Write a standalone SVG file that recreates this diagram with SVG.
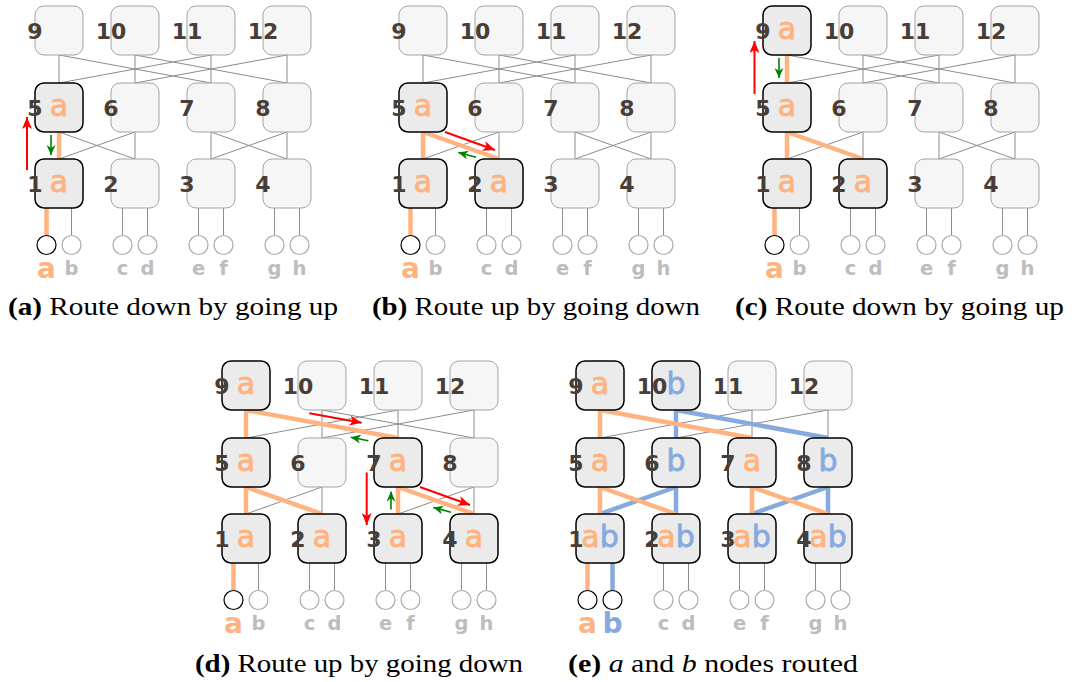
<svg xmlns="http://www.w3.org/2000/svg" xmlns:xlink="http://www.w3.org/1999/xlink" width="1072" height="682" viewBox="0 0 1072 682">
  <style>
    .w { stroke: #8c8c8c; stroke-width: 1; fill: none; }
    .o { stroke: #ffb380; stroke-width: 4.5; fill: none; }
    .bl { stroke: #87aade; stroke-width: 4.5; fill: none; }
    .box { fill: #f6f6f6; stroke: #a3a3a3; stroke-width: 1; }
    .box.on { fill: #ebebeb; stroke: #000; stroke-width: 1.5; }
    .num { font-family: "DejaVu Sans", sans-serif; font-weight: bold; font-size: 22px; fill: #483e37; text-anchor: middle; }
    .let { font-family: "DejaVu Sans", sans-serif; font-size: 30px; text-anchor: middle; stroke-width: 0.8; }
    .oa { fill: #ffb380; stroke: #ffb380; }
    .bb { fill: #87aade; stroke: #87aade; }
    .leaf { fill: #fff; stroke: #ababab; stroke-width: 1.2; }
    .leaf.on { stroke: #000; }
    .lab { font-family: "DejaVu Sans", sans-serif; font-weight: bold; font-size: 19.5px; fill: #bdbdbd; text-anchor: middle; }
    .big { font-family: "DejaVu Sans", sans-serif; font-weight: bold; font-size: 28px; text-anchor: middle; stroke: none; }
    .big.oa, .big.bb { stroke: none; }
    .cap { font-family: "Liberation Serif", "Times New Roman", serif; font-size: 26px; fill: #000; }
    .red { stroke: #ff0000; stroke-width: 2; fill: none; marker-end: url(#headR); }
    .grn { stroke: #008000; stroke-width: 1.6; fill: none; marker-end: url(#headG); }
  </style>
  <defs>
    <marker id="headR" markerUnits="userSpaceOnUse" markerWidth="12" markerHeight="10" viewBox="0 0 12 10" refX="12" refY="5" orient="auto">
      <path d="M0,0 L12,5 L0,10 L3,5 z" fill="#ff0000"/>
    </marker>
    <marker id="headG" markerUnits="userSpaceOnUse" markerWidth="10" markerHeight="9" viewBox="0 0 10 9" refX="10" refY="4.5" orient="auto">
      <path d="M0,0 L10,4.5 L0,9 L3,4.5 z" fill="#008000"/>
    </marker>
    <!-- thin wiring shared by every copy of the network -->
    <g id="mesh" class="w">
      <path d="M59,55 L59,83 M59,55 L211,83 M135,55 L135,83 M135,55 L287,83 M211,55 L211,83 M211,55 L59,83 M287,55 L287,83 M287,55 L135,83"/>
      <path d="M59,132 L59,159 M59,132 L135,159 M135,132 L135,159 M135,132 L59,159 M211,132 L211,159 M211,132 L287,159 M287,132 L287,159 M287,132 L211,159"/>
      <path d="M46.5,208 L46.5,235.5 M71.5,208 L71.5,235.5 M122.5,208 L122.5,235.5 M147.5,208 L147.5,235.5 M198.5,208 L198.5,235.5 M223.5,208 L223.5,235.5 M274.5,208 L274.5,235.5 M299.5,208 L299.5,235.5"/>
    </g>
  </defs>
  <rect width="1072" height="682" fill="#fff"/>

  <!-- (a) -->
  <g id="panel-a">
    <g id="a-connectors">
      <use href="#mesh" xlink:href="#mesh"/>
      <path class="o" d="M59,132 L59,159 M46.5,208 L46.5,235.5"/>
      <path class="red" d="M27,170 L27,117"/>
      <path class="grn" d="M51,135 L51,155"/>
    </g>
    <g id="a-n9"><rect class="box" x="35" y="6" width="48" height="49" rx="9"/><text class="num" x="35" y="38.5">9</text></g>
    <g id="a-n10"><rect class="box" x="111" y="6" width="48" height="49" rx="9"/><text class="num" x="111" y="38.5">10</text></g>
    <g id="a-n11"><rect class="box" x="187" y="6" width="48" height="49" rx="9"/><text class="num" x="187" y="38.5">11</text></g>
    <g id="a-n12"><rect class="box" x="263" y="6" width="48" height="49" rx="9"/><text class="num" x="263" y="38.5">12</text></g>
    <g id="a-n5"><rect class="box on" x="35" y="83" width="48" height="49" rx="9"/><text class="num" x="35" y="115.5">5</text><text class="let oa" x="59" y="115.5">a</text></g>
    <g id="a-n6"><rect class="box" x="111" y="83" width="48" height="49" rx="9"/><text class="num" x="111" y="115.5">6</text></g>
    <g id="a-n7"><rect class="box" x="187" y="83" width="48" height="49" rx="9"/><text class="num" x="187" y="115.5">7</text></g>
    <g id="a-n8"><rect class="box" x="263" y="83" width="48" height="49" rx="9"/><text class="num" x="263" y="115.5">8</text></g>
    <g id="a-n1"><rect class="box on" x="35" y="159" width="48" height="49" rx="9"/><text class="num" x="35" y="191.5">1</text><text class="let oa" x="59" y="191.5">a</text></g>
    <g id="a-n2"><rect class="box" x="111" y="159" width="48" height="49" rx="9"/><text class="num" x="111" y="191.5">2</text></g>
    <g id="a-n3"><rect class="box" x="187" y="159" width="48" height="49" rx="9"/><text class="num" x="187" y="191.5">3</text></g>
    <g id="a-n4"><rect class="box" x="263" y="159" width="48" height="49" rx="9"/><text class="num" x="263" y="191.5">4</text></g>
    <g id="a-la"><circle class="leaf on" cx="46.5" cy="245" r="9.5"/><text class="big oa" x="46.5" y="278">a</text></g>
    <g id="a-lb"><circle class="leaf" cx="71.5" cy="245" r="9.5"/><text class="lab" x="71.5" y="275">b</text></g>
    <g id="a-lc"><circle class="leaf" cx="122.5" cy="245" r="9.5"/><text class="lab" x="122.5" y="275">c</text></g>
    <g id="a-ld"><circle class="leaf" cx="147.5" cy="245" r="9.5"/><text class="lab" x="147.5" y="275">d</text></g>
    <g id="a-le"><circle class="leaf" cx="198.5" cy="245" r="9.5"/><text class="lab" x="198.5" y="275">e</text></g>
    <g id="a-lf"><circle class="leaf" cx="223.5" cy="245" r="9.5"/><text class="lab" x="223.5" y="275">f</text></g>
    <g id="a-lg"><circle class="leaf" cx="274.5" cy="245" r="9.5"/><text class="lab" x="274.5" y="275">g</text></g>
    <g id="a-lh"><circle class="leaf" cx="299.5" cy="245" r="9.5"/><text class="lab" x="299.5" y="275">h</text></g>
  </g>

  <!-- (b) -->
  <g id="panel-b" transform="translate(364,0)">
    <g id="b-connectors">
      <use href="#mesh" xlink:href="#mesh"/>
      <path class="o" d="M59,132 L59,159 M59,132 L135,159 M46.5,208 L46.5,235.5"/>
      <path class="red" d="M81,132 L131,150"/>
      <path class="grn" d="M112,157.3 L94.3,152.4"/>
    </g>
    <g id="b-n9"><rect class="box" x="35" y="6" width="48" height="49" rx="9"/><text class="num" x="35" y="38.5">9</text></g>
    <g id="b-n10"><rect class="box" x="111" y="6" width="48" height="49" rx="9"/><text class="num" x="111" y="38.5">10</text></g>
    <g id="b-n11"><rect class="box" x="187" y="6" width="48" height="49" rx="9"/><text class="num" x="187" y="38.5">11</text></g>
    <g id="b-n12"><rect class="box" x="263" y="6" width="48" height="49" rx="9"/><text class="num" x="263" y="38.5">12</text></g>
    <g id="b-n5"><rect class="box on" x="35" y="83" width="48" height="49" rx="9"/><text class="num" x="35" y="115.5">5</text><text class="let oa" x="59" y="115.5">a</text></g>
    <g id="b-n6"><rect class="box" x="111" y="83" width="48" height="49" rx="9"/><text class="num" x="111" y="115.5">6</text></g>
    <g id="b-n7"><rect class="box" x="187" y="83" width="48" height="49" rx="9"/><text class="num" x="187" y="115.5">7</text></g>
    <g id="b-n8"><rect class="box" x="263" y="83" width="48" height="49" rx="9"/><text class="num" x="263" y="115.5">8</text></g>
    <g id="b-n1"><rect class="box on" x="35" y="159" width="48" height="49" rx="9"/><text class="num" x="35" y="191.5">1</text><text class="let oa" x="59" y="191.5">a</text></g>
    <g id="b-n2"><rect class="box on" x="111" y="159" width="48" height="49" rx="9"/><text class="num" x="111" y="191.5">2</text><text class="let oa" x="135" y="191.5">a</text></g>
    <g id="b-n3"><rect class="box" x="187" y="159" width="48" height="49" rx="9"/><text class="num" x="187" y="191.5">3</text></g>
    <g id="b-n4"><rect class="box" x="263" y="159" width="48" height="49" rx="9"/><text class="num" x="263" y="191.5">4</text></g>
    <g id="b-la"><circle class="leaf on" cx="46.5" cy="245" r="9.5"/><text class="big oa" x="46.5" y="278">a</text></g>
    <g id="b-lb"><circle class="leaf" cx="71.5" cy="245" r="9.5"/><text class="lab" x="71.5" y="275">b</text></g>
    <g id="b-lc"><circle class="leaf" cx="122.5" cy="245" r="9.5"/><text class="lab" x="122.5" y="275">c</text></g>
    <g id="b-ld"><circle class="leaf" cx="147.5" cy="245" r="9.5"/><text class="lab" x="147.5" y="275">d</text></g>
    <g id="b-le"><circle class="leaf" cx="198.5" cy="245" r="9.5"/><text class="lab" x="198.5" y="275">e</text></g>
    <g id="b-lf"><circle class="leaf" cx="223.5" cy="245" r="9.5"/><text class="lab" x="223.5" y="275">f</text></g>
    <g id="b-lg"><circle class="leaf" cx="274.5" cy="245" r="9.5"/><text class="lab" x="274.5" y="275">g</text></g>
    <g id="b-lh"><circle class="leaf" cx="299.5" cy="245" r="9.5"/><text class="lab" x="299.5" y="275">h</text></g>
  </g>

  <!-- (c) -->
  <g id="panel-c" transform="translate(728,0)">
    <g id="c-connectors">
      <use href="#mesh" xlink:href="#mesh"/>
      <path class="o" d="M59,55 L59,83 M59,132 L59,159 M59,132 L135,159 M46.5,208 L46.5,235.5"/>
      <path class="red" d="M26.5,94 L26.5,41"/>
      <path class="grn" d="M51,58 L51,78"/>
    </g>
    <g id="c-n9"><rect class="box on" x="35" y="6" width="48" height="49" rx="9"/><text class="num" x="35" y="38.5">9</text><text class="let oa" x="59" y="38.5">a</text></g>
    <g id="c-n10"><rect class="box" x="111" y="6" width="48" height="49" rx="9"/><text class="num" x="111" y="38.5">10</text></g>
    <g id="c-n11"><rect class="box" x="187" y="6" width="48" height="49" rx="9"/><text class="num" x="187" y="38.5">11</text></g>
    <g id="c-n12"><rect class="box" x="263" y="6" width="48" height="49" rx="9"/><text class="num" x="263" y="38.5">12</text></g>
    <g id="c-n5"><rect class="box on" x="35" y="83" width="48" height="49" rx="9"/><text class="num" x="35" y="115.5">5</text><text class="let oa" x="59" y="115.5">a</text></g>
    <g id="c-n6"><rect class="box" x="111" y="83" width="48" height="49" rx="9"/><text class="num" x="111" y="115.5">6</text></g>
    <g id="c-n7"><rect class="box" x="187" y="83" width="48" height="49" rx="9"/><text class="num" x="187" y="115.5">7</text></g>
    <g id="c-n8"><rect class="box" x="263" y="83" width="48" height="49" rx="9"/><text class="num" x="263" y="115.5">8</text></g>
    <g id="c-n1"><rect class="box on" x="35" y="159" width="48" height="49" rx="9"/><text class="num" x="35" y="191.5">1</text><text class="let oa" x="59" y="191.5">a</text></g>
    <g id="c-n2"><rect class="box on" x="111" y="159" width="48" height="49" rx="9"/><text class="num" x="111" y="191.5">2</text><text class="let oa" x="135" y="191.5">a</text></g>
    <g id="c-n3"><rect class="box" x="187" y="159" width="48" height="49" rx="9"/><text class="num" x="187" y="191.5">3</text></g>
    <g id="c-n4"><rect class="box" x="263" y="159" width="48" height="49" rx="9"/><text class="num" x="263" y="191.5">4</text></g>
    <g id="c-la"><circle class="leaf on" cx="46.5" cy="245" r="9.5"/><text class="big oa" x="46.5" y="278">a</text></g>
    <g id="c-lb"><circle class="leaf" cx="71.5" cy="245" r="9.5"/><text class="lab" x="71.5" y="275">b</text></g>
    <g id="c-lc"><circle class="leaf" cx="122.5" cy="245" r="9.5"/><text class="lab" x="122.5" y="275">c</text></g>
    <g id="c-ld"><circle class="leaf" cx="147.5" cy="245" r="9.5"/><text class="lab" x="147.5" y="275">d</text></g>
    <g id="c-le"><circle class="leaf" cx="198.5" cy="245" r="9.5"/><text class="lab" x="198.5" y="275">e</text></g>
    <g id="c-lf"><circle class="leaf" cx="223.5" cy="245" r="9.5"/><text class="lab" x="223.5" y="275">f</text></g>
    <g id="c-lg"><circle class="leaf" cx="274.5" cy="245" r="9.5"/><text class="lab" x="274.5" y="275">g</text></g>
    <g id="c-lh"><circle class="leaf" cx="299.5" cy="245" r="9.5"/><text class="lab" x="299.5" y="275">h</text></g>
  </g>

  <!-- (d) -->
  <g id="panel-d" transform="translate(187,355)">
    <g id="d-connectors">
      <use href="#mesh" xlink:href="#mesh"/>
      <path class="o" d="M59,55 L59,83 M59,55 L211,83 M59,132 L59,159 M59,132 L135,159 M211,132 L211,159 M211,132 L287,159 M46.5,208 L46.5,235.5"/>
      <path class="red" d="M122.3,58.3 L174.7,67.7"/>
      <path class="grn" d="M181.3,85.7 L163.7,82.3"/>
      <path class="red" d="M179.7,117.5 L179.7,170"/>
      <path class="grn" d="M204,154.5 L204,136.5"/>
      <path class="red" d="M233,132 L283,150"/>
      <path class="grn" d="M264,157.3 L246.3,152.4"/>
    </g>
    <g id="d-n9"><rect class="box on" x="35" y="6" width="48" height="49" rx="9"/><text class="num" x="35" y="38.5">9</text><text class="let oa" x="59" y="38.5">a</text></g>
    <g id="d-n10"><rect class="box" x="111" y="6" width="48" height="49" rx="9"/><text class="num" x="111" y="38.5">10</text></g>
    <g id="d-n11"><rect class="box" x="187" y="6" width="48" height="49" rx="9"/><text class="num" x="187" y="38.5">11</text></g>
    <g id="d-n12"><rect class="box" x="263" y="6" width="48" height="49" rx="9"/><text class="num" x="263" y="38.5">12</text></g>
    <g id="d-n5"><rect class="box on" x="35" y="83" width="48" height="49" rx="9"/><text class="num" x="35" y="115.5">5</text><text class="let oa" x="59" y="115.5">a</text></g>
    <g id="d-n6"><rect class="box" x="111" y="83" width="48" height="49" rx="9"/><text class="num" x="111" y="115.5">6</text></g>
    <g id="d-n7"><rect class="box on" x="187" y="83" width="48" height="49" rx="9"/><text class="num" x="187" y="115.5">7</text><text class="let oa" x="211" y="115.5">a</text></g>
    <g id="d-n8"><rect class="box" x="263" y="83" width="48" height="49" rx="9"/><text class="num" x="263" y="115.5">8</text></g>
    <g id="d-n1"><rect class="box on" x="35" y="159" width="48" height="49" rx="9"/><text class="num" x="35" y="191.5">1</text><text class="let oa" x="59" y="191.5">a</text></g>
    <g id="d-n2"><rect class="box on" x="111" y="159" width="48" height="49" rx="9"/><text class="num" x="111" y="191.5">2</text><text class="let oa" x="135" y="191.5">a</text></g>
    <g id="d-n3"><rect class="box on" x="187" y="159" width="48" height="49" rx="9"/><text class="num" x="187" y="191.5">3</text><text class="let oa" x="211" y="191.5">a</text></g>
    <g id="d-n4"><rect class="box on" x="263" y="159" width="48" height="49" rx="9"/><text class="num" x="263" y="191.5">4</text><text class="let oa" x="287" y="191.5">a</text></g>
    <g id="d-la"><circle class="leaf on" cx="46.5" cy="245" r="9.5"/><text class="big oa" x="46.5" y="278">a</text></g>
    <g id="d-lb"><circle class="leaf" cx="71.5" cy="245" r="9.5"/><text class="lab" x="71.5" y="275">b</text></g>
    <g id="d-lc"><circle class="leaf" cx="122.5" cy="245" r="9.5"/><text class="lab" x="122.5" y="275">c</text></g>
    <g id="d-ld"><circle class="leaf" cx="147.5" cy="245" r="9.5"/><text class="lab" x="147.5" y="275">d</text></g>
    <g id="d-le"><circle class="leaf" cx="198.5" cy="245" r="9.5"/><text class="lab" x="198.5" y="275">e</text></g>
    <g id="d-lf"><circle class="leaf" cx="223.5" cy="245" r="9.5"/><text class="lab" x="223.5" y="275">f</text></g>
    <g id="d-lg"><circle class="leaf" cx="274.5" cy="245" r="9.5"/><text class="lab" x="274.5" y="275">g</text></g>
    <g id="d-lh"><circle class="leaf" cx="299.5" cy="245" r="9.5"/><text class="lab" x="299.5" y="275">h</text></g>
  </g>

  <!-- (e) -->
  <g id="panel-e" transform="translate(541,355)">
    <g id="e-connectors">
      <use href="#mesh" xlink:href="#mesh"/>
      <path class="bl" d="M135,55 L135,83 M135,55 L287,83 M135,132 L135,159 M135,132 L59,159 M287,132 L287,159 M287,132 L211,159 M71.5,208 L71.5,235.5"/>
      <path class="o" d="M59,55 L59,83 M59,55 L211,83 M59,132 L59,159 M59,132 L135,159 M211,132 L211,159 M211,132 L287,159 M46.5,208 L46.5,235.5"/>
    </g>
    <g id="e-n9"><rect class="box on" x="35" y="6" width="48" height="49" rx="9"/><text class="num" x="35" y="38.5">9</text><text class="let oa" x="59" y="38.5">a</text></g>
    <g id="e-n10"><rect class="box on" x="111" y="6" width="48" height="49" rx="9"/><text class="num" x="111" y="38.5">10</text><text class="let bb" x="135" y="38.5">b</text></g>
    <g id="e-n11"><rect class="box" x="187" y="6" width="48" height="49" rx="9"/><text class="num" x="187" y="38.5">11</text></g>
    <g id="e-n12"><rect class="box" x="263" y="6" width="48" height="49" rx="9"/><text class="num" x="263" y="38.5">12</text></g>
    <g id="e-n5"><rect class="box on" x="35" y="83" width="48" height="49" rx="9"/><text class="num" x="35" y="115.5">5</text><text class="let oa" x="59" y="115.5">a</text></g>
    <g id="e-n6"><rect class="box on" x="111" y="83" width="48" height="49" rx="9"/><text class="num" x="111" y="115.5">6</text><text class="let bb" x="135" y="115.5">b</text></g>
    <g id="e-n7"><rect class="box on" x="187" y="83" width="48" height="49" rx="9"/><text class="num" x="187" y="115.5">7</text><text class="let oa" x="211" y="115.5">a</text></g>
    <g id="e-n8"><rect class="box on" x="263" y="83" width="48" height="49" rx="9"/><text class="num" x="263" y="115.5">8</text><text class="let bb" x="287" y="115.5">b</text></g>
    <g id="e-n1"><rect class="box on" x="35" y="159" width="48" height="49" rx="9"/><text class="num" x="35" y="191.5">1</text><text class="let" x="59" y="191.5"><tspan class="oa">a</tspan><tspan class="bb">b</tspan></text></g>
    <g id="e-n2"><rect class="box on" x="111" y="159" width="48" height="49" rx="9"/><text class="num" x="111" y="191.5">2</text><text class="let" x="135" y="191.5"><tspan class="oa">a</tspan><tspan class="bb">b</tspan></text></g>
    <g id="e-n3"><rect class="box on" x="187" y="159" width="48" height="49" rx="9"/><text class="num" x="187" y="191.5">3</text><text class="let" x="211" y="191.5"><tspan class="oa">a</tspan><tspan class="bb">b</tspan></text></g>
    <g id="e-n4"><rect class="box on" x="263" y="159" width="48" height="49" rx="9"/><text class="num" x="263" y="191.5">4</text><text class="let" x="287" y="191.5"><tspan class="oa">a</tspan><tspan class="bb">b</tspan></text></g>
    <g id="e-la"><circle class="leaf on" cx="46.5" cy="245" r="9.5"/><text class="big oa" x="46.5" y="278">a</text></g>
    <g id="e-lb"><circle class="leaf on" cx="71.5" cy="245" r="9.5"/><text class="big bb" x="71.5" y="278">b</text></g>
    <g id="e-lc"><circle class="leaf" cx="122.5" cy="245" r="9.5"/><text class="lab" x="122.5" y="275">c</text></g>
    <g id="e-ld"><circle class="leaf" cx="147.5" cy="245" r="9.5"/><text class="lab" x="147.5" y="275">d</text></g>
    <g id="e-le"><circle class="leaf" cx="198.5" cy="245" r="9.5"/><text class="lab" x="198.5" y="275">e</text></g>
    <g id="e-lf"><circle class="leaf" cx="223.5" cy="245" r="9.5"/><text class="lab" x="223.5" y="275">f</text></g>
    <g id="e-lg"><circle class="leaf" cx="274.5" cy="245" r="9.5"/><text class="lab" x="274.5" y="275">g</text></g>
    <g id="e-lh"><circle class="leaf" cx="299.5" cy="245" r="9.5"/><text class="lab" x="299.5" y="275">h</text></g>
  </g>

  <!-- sub-figure captions -->
  <g id="captions">
    <text class="cap" x="8" y="315" textLength="330" lengthAdjust="spacingAndGlyphs"><tspan font-weight="bold">(a)</tspan> Route down by going up</text>
    <text class="cap" x="372" y="315" textLength="328" lengthAdjust="spacingAndGlyphs"><tspan font-weight="bold">(b)</tspan> Route up by going down</text>
    <text class="cap" x="735" y="315" textLength="329" lengthAdjust="spacingAndGlyphs"><tspan font-weight="bold">(c)</tspan> Route down by going up</text>
    <text class="cap" x="195" y="672" textLength="328" lengthAdjust="spacingAndGlyphs"><tspan font-weight="bold">(d)</tspan> Route up by going down</text>
    <text class="cap" x="568" y="672" textLength="290" lengthAdjust="spacingAndGlyphs"><tspan font-weight="bold">(e)</tspan> <tspan font-style="italic">a</tspan> and <tspan font-style="italic">b</tspan> nodes routed</text>
  </g>
</svg>
